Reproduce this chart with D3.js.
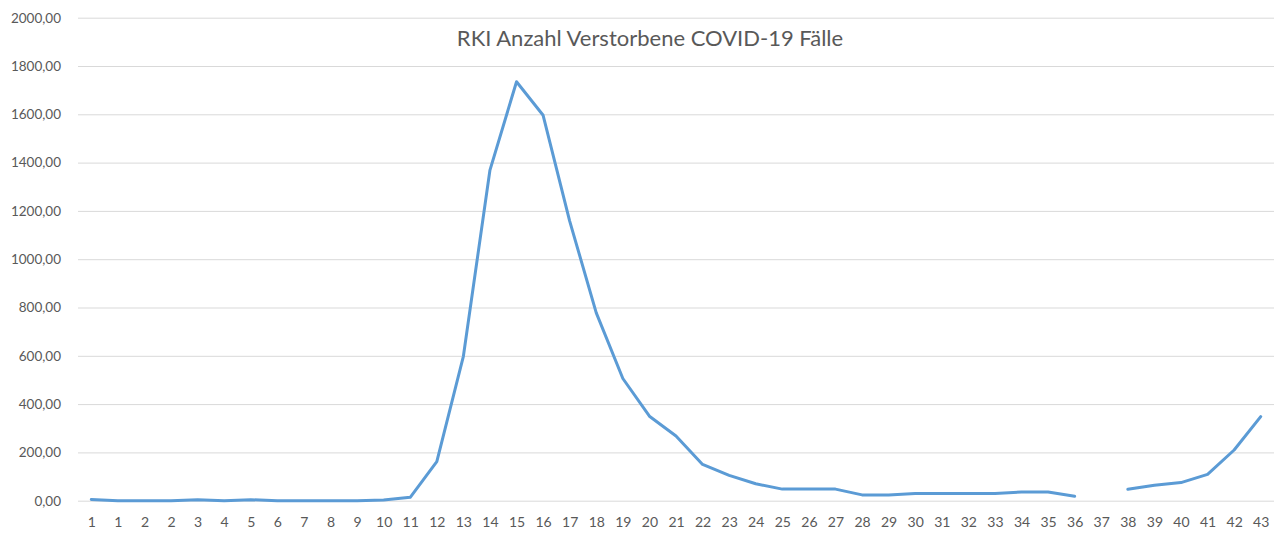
<!DOCTYPE html>
<html>
<head>
<meta charset="utf-8">
<script src="https://cdn.jsdelivr.net/npm/d3@7"></script>
<style>
  html, body { margin: 0; padding: 0; background: #fff; }
  svg { display: block; }
</style>
</head>
<body>
<svg id="chart" width="1278" height="533"></svg>
<script>
const title = "RKI Anzahl Verstorbene COVID-19 Fälle";
const weekLabels = ["1","1","2","2","3","4","5","6","7","8","9","10","11","12","13","14","15","16","17","18","19","20","21","22","23","24","25","26","27","28","29","30","31","32","33","34","35","36","37","38","39","40","41","42","43"];
const deaths = [5,0,0,0,4,0,4,0,0,0,0,3,14,162,598,1369,1735,1596,1158,778,506,350,268,150,105,70,48,48,48,24,24,30,30,30,30,36,36,18,null,47,64,75,109,210,348];
const yTicks = [0,200,400,600,800,1000,1200,1400,1600,1800,2000];

const svg = d3.select("#chart");
const plot = { left: 78, right: 1274, top: 17.7, bottom: 500.7 };
const font = "Lato, 'Open Sans', sans-serif";
const textColor = "#595959";

const x = d3.scalePoint()
  .domain(d3.range(weekLabels.length))
  .range([plot.left, plot.right])
  .padding(0.5);

const y = d3.scaleLinear()
  .domain([0, 2000])
  .range([plot.bottom, plot.top]);

const fmt = v => d3.format(".2f")(v).replace(".", ",");

// gridlines + y labels
const yAxis = d3.axisLeft(y)
  .tickValues(yTicks)
  .tickSize(-(plot.right - plot.left))
  .tickPadding(17)
  .tickFormat(fmt);

const gy = svg.append("g")
  .attr("transform", `translate(${plot.left},0)`)
  .call(yAxis);
gy.select(".domain").remove();
gy.selectAll(".tick line").attr("stroke", "#d9d9d9").attr("stroke-width", 1);
gy.selectAll(".tick text")
  .attr("fill", textColor)
  .style("font-family", font)
  .style("font-size", "13.5px");

// x axis labels
const xAxis = d3.axisBottom(x)
  .tickSize(0)
  .tickPadding(16)
  .tickFormat(i => weekLabels[i]);
const gx = svg.append("g")
  .attr("transform", `translate(0,${plot.bottom})`)
  .call(xAxis);
gx.select(".domain").remove();
gx.selectAll(".tick text")
  .attr("fill", textColor)
  .style("font-family", font)
  .style("font-size", "14px");

// line
const line = d3.line()
  .defined(d => d != null)
  .x((d, i) => x(i))
  .y(d => y(d));

svg.append("path")
  .datum(deaths)
  .attr("fill", "none")
  .attr("stroke", "#5b9bd5")
  .attr("stroke-width", 3)
  .attr("stroke-linejoin", "round")
  .attr("stroke-linecap", "round")
  .attr("d", line);

// title
svg.append("text")
  .attr("x", 650)
  .attr("y", 46)
  .attr("text-anchor", "middle")
  .attr("fill", textColor)
  .style("font-family", font)
  .style("font-size", "22px")
  .text(title);
</script>
</body>
</html>
